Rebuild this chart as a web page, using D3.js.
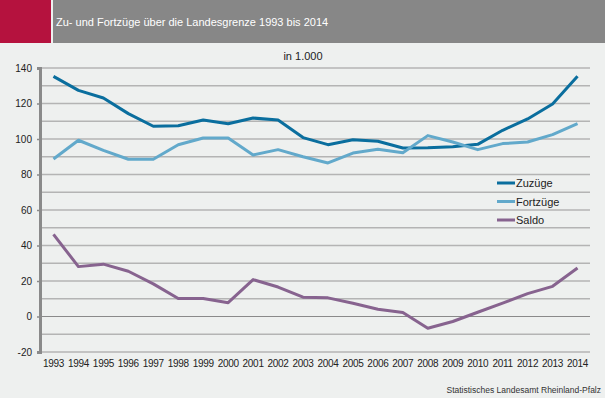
<!DOCTYPE html>
<html>
<head>
<meta charset="utf-8">
<script src="https://cdn.jsdelivr.net/npm/d3@7"></script>
<style>
  body { margin: 0; background: #eef0ef; }
  svg { display: block; font-family: "Liberation Sans", Arial, sans-serif; }
</style>
</head>
<body>
<div id="chart"></div>
<script>
const years = ['1993', '1994', '1995', '1996', '1997', '1998', '1999', '2000', '2001', '2002', '2003',
  '2004', '2005', '2006', '2007', '2008', '2009', '2010', '2011', '2012', '2013', '2014'];

const zuzuege = [135.3, 127.4, 123.1, 114.3, 107.2, 107.5, 110.7, 108.6, 111.8, 110.7, 100.8,
  96.8, 99.6, 98.7, 94.9, 95.1, 95.7, 97.0, 104.9, 111.3, 119.7, 135.3];
const fortzuege = [88.7, 99.3, 93.6, 88.6, 88.6, 96.8, 100.6, 100.6, 91.0, 94.0, 90.0,
  86.5, 92.1, 94.2, 92.3, 101.9, 98.3, 94.0, 97.4, 98.3, 102.5, 108.6];
const saldo = [46.3, 28.1, 29.5, 25.5, 18.4, 10.1, 10.1, 7.8, 20.8, 16.6, 10.9,
  10.5, 7.5, 4.1, 2.3, -6.6, -2.8, 2.4, 7.5, 12.9, 17.0, 27.3];

const yTicks = [-20, 0, 20, 40, 60, 80, 100, 120, 140];
const gridValues = d3.range(-20, 141, 10);

const series = [
  { name: 'Zuzüge', values: zuzuege, color: '#0a6e9e' },
  { name: 'Fortzüge', values: fortzuege, color: '#62a9cb' },
  { name: 'Saldo', values: saldo, color: '#87638f' }
];

const width = 605, height = 398;

const svg = d3.select('#chart').append('svg')
  .attr('width', width)
  .attr('height', height);

svg.append('rect').attr('width', width).attr('height', height).attr('fill', '#eef0ef');

// header
svg.append('rect').attr('x', 0).attr('y', 0).attr('width', 51).attr('height', 43).attr('fill', '#b5123e');
svg.append('rect').attr('x', 53).attr('y', 0).attr('width', width - 53).attr('height', 43).attr('fill', '#878787');
svg.append('text')
  .attr('x', 56).attr('y', 26)
  .attr('font-size', 11)
  .attr('fill', '#ffffff')
  .text('Zu- und Fortzüge über die Landesgrenze 1993 bis 2014');

svg.append('text')
  .attr('x', 303).attr('y', 60)
  .attr('text-anchor', 'middle')
  .attr('font-size', 11)
  .attr('fill', '#222')
  .text('in 1.000');

const x = d3.scaleBand().domain(years).range([41, 590]);
const y = d3.scaleLinear().domain([-20, 140]).range([352, 68]);

// gridlines
svg.append('g')
  .selectAll('line')
  .data(gridValues)
  .enter().append('line')
  .attr('x1', 41).attr('x2', 590)
  .attr('y1', d => y(d)).attr('y2', d => y(d))
  .attr('stroke', d => d === 0 ? '#8a8a8a' : '#b4b4b4')
  .attr('stroke-width', d => d === 0 ? 1.2 : 1.6);

// y axis
const yAxis = svg.append('g')
  .attr('transform', 'translate(40,0)')
  .call(d3.axisLeft(y).tickValues(yTicks).tickFormat(d => String(d)).tickSize(3).tickPadding(5));
yAxis.select('.domain').attr('stroke', '#8a8a8a').attr('stroke-width', 3);
yAxis.selectAll('.tick line').attr('stroke', '#8a8a8a').attr('stroke-width', 1.5);
yAxis.selectAll('.tick text')
  .attr('font-size', 10)
  .attr('font-family', '"Liberation Sans", Arial, sans-serif')
  .attr('fill', '#222');

// x axis labels
const xAxis = svg.append('g')
  .attr('transform', 'translate(0,352)')
  .call(d3.axisBottom(x).tickSize(0).tickPadding(8));
xAxis.select('.domain').remove();
xAxis.selectAll('.tick text')
  .attr('font-size', 10)
  .attr('letter-spacing', -0.3)
  .attr('font-family', '"Liberation Sans", Arial, sans-serif')
  .attr('fill', '#222');

// lines
const line = d3.line()
  .x((d, i) => x(years[i]) + x.bandwidth() / 2)
  .y(d => y(d));

svg.append('g')
  .selectAll('path')
  .data(series)
  .enter().append('path')
  .attr('d', d => line(d.values))
  .attr('fill', 'none')
  .attr('stroke', d => d.color)
  .attr('stroke-width', 3)
  .attr('stroke-linejoin', 'round');

// legend
const legend = svg.append('g')
  .selectAll('g')
  .data(series)
  .enter().append('g')
  .attr('transform', (d, i) => `translate(497,${183 + i * 18.5})`);

legend.append('line')
  .attr('x1', 0).attr('x2', 18)
  .attr('stroke', d => d.color)
  .attr('stroke-width', 3);

legend.append('text')
  .attr('x', 19).attr('y', 4)
  .attr('font-size', 11)
  .attr('fill', '#222')
  .text(d => d.name);

// source
svg.append('text')
  .attr('x', 601).attr('y', 393)
  .attr('text-anchor', 'end')
  .attr('font-size', 8.5)
  .attr('fill', '#333')
  .text('Statistisches Landesamt Rheinland-Pfalz');
</script>
</body>
</html>
